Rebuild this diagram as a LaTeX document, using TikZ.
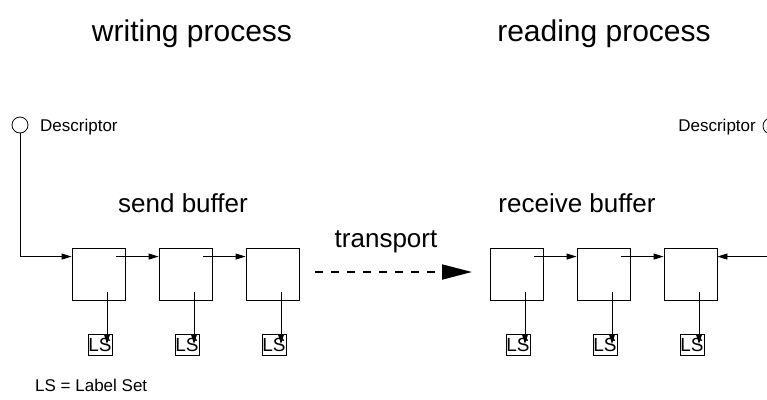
\documentclass[tikz,border=0pt]{standalone}
\usepackage{fontspec}
\setmainfont{Liberation Sans}
\usetikzlibrary{arrows.meta,calc}
\begin{document}
\begin{tikzpicture}[x=1pt,y=-1pt,
  every node/.style={font=\fontsize{17}{20}\selectfont},
  cell/.style={draw, minimum width=53pt, minimum height=52pt, inner sep=0pt, line width=0.9pt},
  lsbox/.style={draw, minimum width=24pt, minimum height=21pt, inner sep=0pt, line width=0.8pt, font=\fontsize{19}{22}\selectfont},
  desc/.style={draw, circle, minimum size=16pt, inner sep=0pt, line width=0.8pt},
  arr/.style={-{Triangle[length=10pt,width=6pt]}, line width=0.9pt},
  transarrow/.style={-{Triangle[length=30pt,width=15pt]}, line width=1.8pt, dash pattern=on 8pt off 8pt},
  big/.style={font=\fontsize{30}{36}\selectfont, anchor=base, inner sep=0pt},
  mid/.style={font=\fontsize{26}{31}\selectfont, anchor=base, inner sep=0pt},
  plain/.style={inner sep=0pt},
]
\useasboundingbox (0,0) rectangle (767,399);
\clip (0,0) rectangle (767,399);

% titles
\node[big] (wp) at (192,41) {writing process};
\node[big] (rp) at (604,41) {reading process};

% descriptors
\node[desc] (d1) at (20,125) {};
\node[plain, anchor=base west] (d1t) at (40,131) {Descriptor};
\node[desc] (d2) at (771,126) {};
\node[plain, anchor=base east] (d2t) at (756,131) {Descriptor};

% buffer labels
\node[mid] (sb) at (183,212) {send buffer};
\node[mid] (rb) at (577,212) {receive buffer};
\node[mid] (tr) at (386,247) {transport};

% cells
\node[cell] (b1) at (98.5,274) {};
\node[cell] (b2) at (185.5,274) {};
\node[cell] (b3) at (272.5,274) {};
\node[cell] (b4) at (516.5,274) {};
\node[cell] (b5) at (603.5,274) {};
\node[cell] (b6) at (690.5,274) {};

% label sets
\node[lsbox] (l1) at (100,345) {LS};
\node[lsbox] (l2) at (187,345) {LS};
\node[lsbox] (l3) at (274,345) {LS};
\node[lsbox] (l4) at (518,345) {LS};
\node[lsbox] (l5) at (605,345) {LS};
\node[lsbox] (l6) at (692,345) {LS};

% key
\node[plain, anchor=base west] (key) at (35,391) {LS = Label Set};

% connectors
\draw[arr] (d1.south) |- ([yshift=-9pt]b1.north west);
\draw[arr] ([xshift=-9pt,yshift=-9pt]b1.north east) -- ([yshift=-9pt]b2.north west);
\draw[arr] ([xshift=-9pt,yshift=-9pt]b2.north east) -- ([yshift=-9pt]b3.north west);
\draw[arr] ([xshift=-9pt,yshift=-9pt]b4.north east) -- ([yshift=-9pt]b5.north west);
\draw[arr] ([xshift=-9pt,yshift=-9pt]b5.north east) -- ([yshift=-9pt]b6.north west);
\draw[arr] (d2.south) |- ([yshift=-9pt]b6.north east);

\foreach \i in {1,...,6}{
  \draw[arr] ($(b\i.center)+(8.5,18)$) coordinate (s\i) -- ($(s\i |- l\i.center)+(0,-1)$);
}

% transport
\coordinate (t1) at (315,272);
\coordinate (t2) at (472,272);
\draw[transarrow] (t1) -- (t2);
\end{tikzpicture}
\end{document}
